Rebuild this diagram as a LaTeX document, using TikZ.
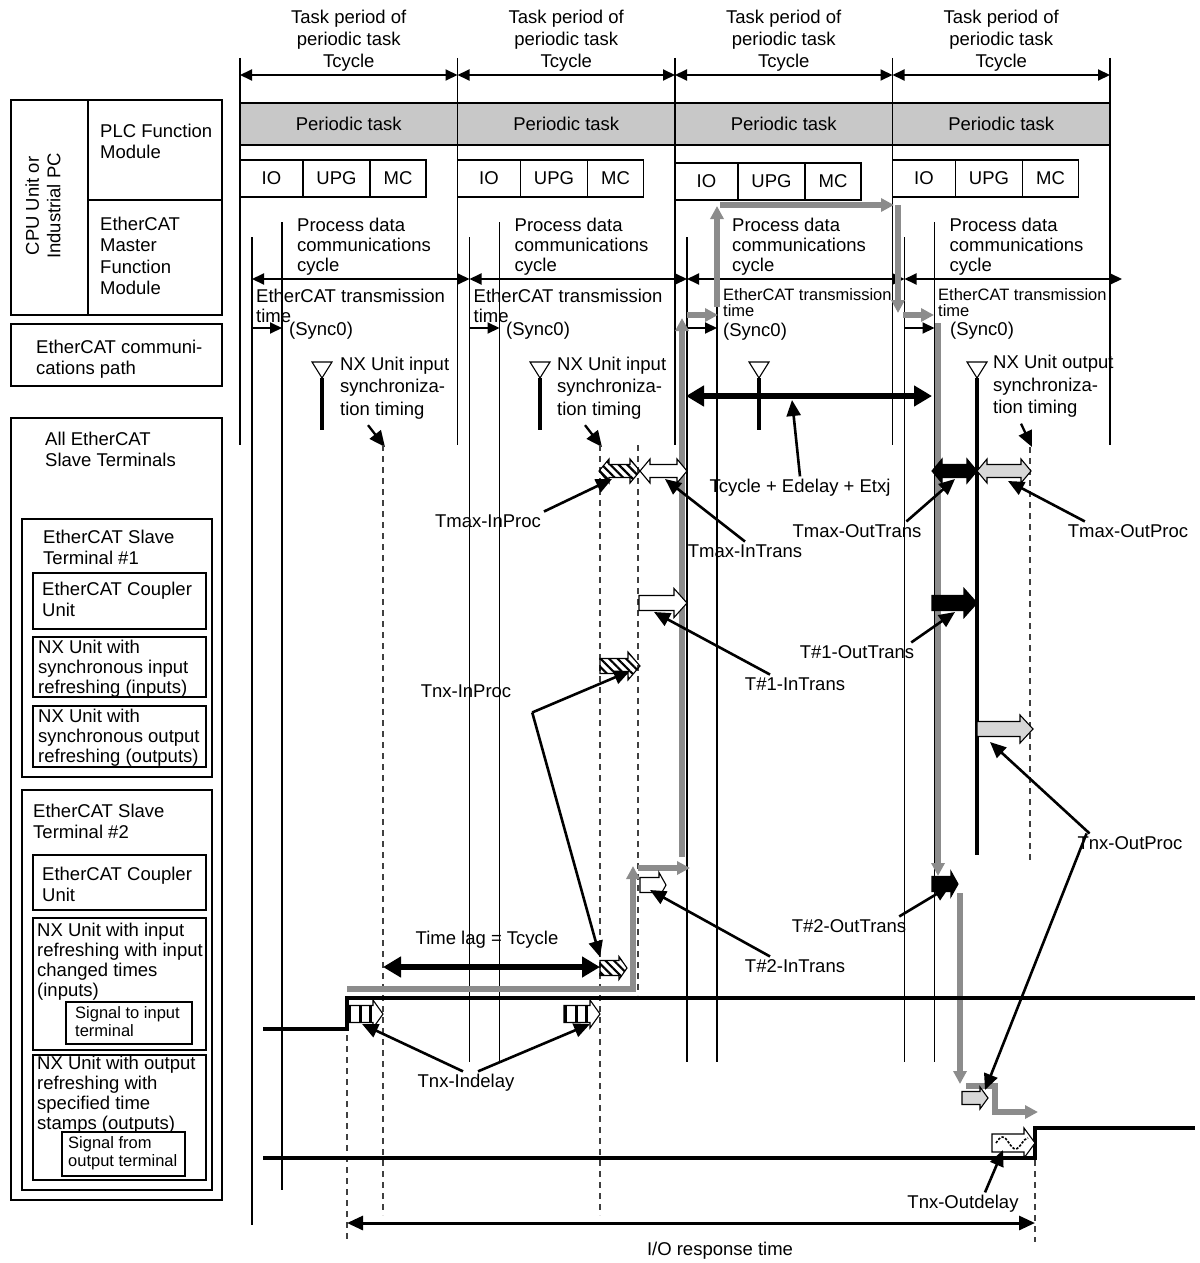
\documentclass[tikz,border=0pt]{standalone}
\usepackage{fontspec}
\setmainfont{Liberation Sans}
\usetikzlibrary{arrows.meta,patterns.meta}

\definecolor{flowgray}{RGB}{140,140,140}
\definecolor{bargray}{RGB}{200,200,200}
\definecolor{blockgray}{RGB}{215,215,215}

% block arrows: style, x1, x2, y, body half height, head half height, head length
\newcommand{\rblock}[7]{%
  \draw[#1] (#2,#4-#5) -- (#3-#7,#4-#5) -- (#3-#7,#4-#6) -- (#3,#4)
    -- (#3-#7,#4+#6) -- (#3-#7,#4+#5) -- (#2,#4+#5) -- cycle;}
\newcommand{\dblock}[7]{%
  \draw[#1] (#2,#4) -- (#2+#7,#4-#6) -- (#2+#7,#4-#5) -- (#3-#7,#4-#5)
    -- (#3-#7,#4-#6) -- (#3,#4) -- (#3-#7,#4+#6) -- (#3-#7,#4+#5)
    -- (#2+#7,#4+#5) -- (#2+#7,#4+#6) -- cycle;}

\tikzset{
  txt/.style={font=\fontsize{18.5}{21.5}\selectfont,inner sep=0pt,align=left},
  tight/.style={font=\fontsize{18.5}{20}\selectfont},
  smalltxt/.style={font=\fontsize{16.5}{18.5}\selectfont},
  box/.style={draw,line width=1.1pt},
  bar/.style={draw,line width=1.1pt,fill=bargray},
  vl/.style={line width=1.1pt},
  stem/.style={line width=3.5pt},
  dl/.style={line width=1.3pt,dash pattern=on 6pt off 5pt,black!75},
  tip/.style={line width=2pt,-{Triangle[length=12pt,width=11pt]}},
  span/.style={line width=2pt,{Triangle[length=12pt,width=11pt]}-{Triangle[length=12pt,width=11pt]}},
  bigspan/.style={line width=6.5pt,{Triangle[length=18pt,width=20pt]}-{Triangle[length=18pt,width=20pt]}},
  ptr/.style={line width=2.6pt,-{Triangle[length=16pt,width=14pt]}},
  flow/.style={draw=flowgray,line width=5.5pt,-{Triangle[length=13pt,width=13pt]}},
  sig/.style={line width=4pt},
  bwhite/.style={draw,line width=1.1pt,fill=white},
  bblack/.style={draw,line width=1.1pt,fill=black},
  bgray/.style={draw,line width=1.1pt,fill=blockgray},
  bhatch/.style={draw,line width=1.1pt,pattern={Lines[angle=-45,distance=6pt,line width=2.2pt]}},
  lbl/.style={txt,outer sep=3pt},
}

\begin{document}
\begin{tikzpicture}[x=1pt,y=-1pt,line join=miter]
  \path[use as bounding box] (0,0) rectangle (1199,1263);

  % left legend
  \draw[box] (11,100) rectangle (222,315);
  \draw[box] (88,100) -- (88,315);
  \draw[box] (88,200) -- (222,200);
  \node[txt,rotate=90,align=center] (cpu) at (43,206) {CPU Unit or\\Industrial PC};
  \node[txt,anchor=north west] (plc) at (100,123.5) {PLC Function\\Module};
  \node[txt,anchor=north west] (ecmaster) at (100,216.5) {EtherCAT\\Master\\Function\\Module};
  \draw[box] (11,324) rectangle (222,386);
  \node[txt,anchor=north west] (commpath) at (36,339.5) {EtherCAT communi-\\cations path};
  \draw[box] (11,418) rectangle (222,1200);
  \node[txt,anchor=north west] (allst) at (45,431.5) {All EtherCAT\\Slave Terminals};
  \draw[box] (22,519) rectangle (212,777);
  \node[txt,anchor=north west] (st1) at (43,529.5) {EtherCAT Slave\\Terminal \#1};
  \draw[box] (33,573) rectangle (206,629);
  \node[txt,anchor=north west] (cu1) at (42,581.5) {EtherCAT Coupler\\Unit};
  \draw[box] (33,637) rectangle (206,697);
  \node[txt,tight,anchor=north west] (nxin1) at (38,639.5) {NX Unit with\\synchronous input\\refreshing (inputs)};
  \draw[box] (33,706) rectangle (206,767);
  \node[txt,tight,anchor=north west] (nxout1) at (38,708.5) {NX Unit with\\synchronous output\\refreshing (outputs)};
  \draw[box] (22,790) rectangle (212,1190);
  \node[txt,anchor=north west] (st2) at (33,803.5) {EtherCAT Slave\\Terminal \#2};
  \draw[box] (33,855) rectangle (206,910);
  \node[txt,anchor=north west] (cu2) at (42,866.5) {EtherCAT Coupler\\Unit};
  \draw[box] (33,918) rectangle (206,1050);
  \node[txt,tight,anchor=north west] (nxin2) at (37,922.5) {NX Unit with input\\refreshing with input\\changed times\\(inputs)};
  \draw[box] (66,1002) rectangle (192,1044);
  \node[txt,smalltxt,anchor=north west] (sigin) at (75,1006) {Signal to input\\terminal};
  \draw[box] (33,1055) rectangle (206,1180);
  \node[txt,tight,anchor=north west] (nxout2) at (37,1055.5) {NX Unit with output\\refreshing with\\specified time\\stamps (outputs)};
  \draw[box] (62,1132) rectangle (185,1176);
  \node[txt,smalltxt,anchor=north west] (sigout) at (68,1136) {Signal from\\output terminal};

  % task period boundaries
  \foreach \x in {240,457.5,675,892.5,1110}
    \draw[vl] (\x,58) -- (\x,445);

  % one column per task period
  \foreach \k/\tri in {0/322,1/540,2/759,3/977}{
    \pgfmathsetmacro{\P}{240+217.5*\k}
    \pgfmathsetmacro{\Q}{\P+217.5}
    \pgfmathsetmacro{\M}{\P+108.75}
    \pgfmathsetmacro{\A}{\P+12}
    \pgfmathsetmacro{\B}{\P+42}
    \pgfmathsetmacro{\yb}{\k==2 ? 163 : 160}
    \pgfmathsetmacro{\Abot}{\k==0 ? 1225 : 1062}
    \pgfmathsetmacro{\Bbot}{\k==0 ? 1190 : 1062}
    \pgfmathsetmacro{\sbot}{\k==3 ? 855 : 430}
    \node[txt,align=center,anchor=north,font=\fontsize{18.5}{22}\selectfont] (hdr\k) at (\M,9.5) {Task period of\\periodic task\\Tcycle};
    \draw[span] (\P,75) -- (\Q,75);
    \draw[bar] (\P,103) rectangle (\Q,145);
    \node[txt] (task\k) at (\M,124) {Periodic task};
    \draw[box] (\P,\yb) rectangle ++(63,37);
    \draw[box] (\P+63,\yb) rectangle ++(67,37);
    \draw[box] (\P+130,\yb) rectangle ++(56,37);
    \node[txt] (io\k) at (\P+31.5,\yb+18.5) {IO};
    \node[txt] (upg\k) at (\P+96.5,\yb+18.5) {UPG};
    \node[txt] (mc\k) at (\P+158,\yb+18.5) {MC};
    \draw[vl] (\A,237) -- (\A,\Abot);
    \draw[vl] (\B,222) -- (\B,\Bbot);
    \draw[span] (\A,279) -- (\A+217.5,279);
    \node[txt,tight,anchor=north west] (pdc\k) at (\P+57,217.5) {Process data\\communications\\cycle};
    \draw[tip] (\A,328) -- (\B,328);
    \draw[line width=1.1pt,fill=white] (\tri-10,362) -- (\tri+10,362) -- (\tri,378) -- cycle;
    \draw[stem] (\tri,378) -- (\tri,\sbot);
  }

  % transmission time texts
  \node[txt,tight,anchor=north west] (ett0) at (256,288.5) {EtherCAT transmission\\time};
  \node[txt,anchor=north west] (sync0) at (289,321.5) {(Sync0)};
  \node[txt,tight,anchor=north west] (ett1) at (473.5,288.5) {EtherCAT transmission\\time};
  \node[txt,anchor=north west] (sync1) at (506,321.5) {(Sync0)};
  \node[txt,smalltxt,anchor=north west,font=\fontsize{16.5}{16}\selectfont] (ett2) at (723,288) {EtherCAT transmission\\time};
  \node[txt,anchor=north west] (sync2) at (723,323) {(Sync0)};
  \node[txt,smalltxt,anchor=north west,font=\fontsize{16.5}{16}\selectfont] (ett3) at (938,288) {EtherCAT transmission\\time};
  \node[txt,anchor=north west] (sync3) at (950,321.5) {(Sync0)};

  % synchronization timing texts
  \node[txt,anchor=north west,font=\fontsize{18.5}{22.5}\selectfont] (nxsync0) at (340,356.5) {NX Unit input\\synchroniza-\\tion timing};
  \node[txt,anchor=north west,font=\fontsize{18.5}{22.5}\selectfont] (nxsync1) at (557,356.5) {NX Unit input\\synchroniza-\\tion timing};
  \node[txt,anchor=north west,font=\fontsize{18.5}{22.5}\selectfont] (nxsync3) at (993,355) {NX Unit output\\synchroniza-\\tion timing};
  \draw[ptr,line width=2.3pt] ([shift={(28,6)}]nxsync0.south west) -- (385,447);
  \draw[ptr,line width=2.3pt] ([shift={(28,6)}]nxsync1.south west) -- (602,447);
  \draw[ptr,line width=2.3pt] ([shift={(28,6)}]nxsync3.south west) -- (1032,447);

  % dashed timing lines
  \draw[dl] (383,445) -- (383,1215);
  \draw[dl] (600,445) -- (600,1215);
  \draw[dl] (638,445) -- (638,995);
  \draw[dl] (1030,447) -- (1030,860);
  \draw[dl] (347,1002) -- (347,1242);
  \draw[dl] (1035,1160) -- (1035,1242);

  % gray data flow
  \draw[flow] (347,989) -- (633,989) -- (633,866);
  \draw[flow] (638,868) -- (690,868);
  \draw[flow] (682,857) -- (682,318);
  \draw[flow] (687,315) -- (718,315);
  \draw[flow] (717,307) -- (717,206);
  \draw[flow] (720,205) -- (894,205);
  \draw[flow] (898,205) -- (898,313);
  \draw[flow] (903,315) -- (934,315);
  \draw[flow] (938,323) -- (938,876);
  \draw[flow] (960,893) -- (960,1084);
  \draw[flow] (966,1086) -- (995,1086) -- (995,1112) -- (1038,1112);

  % signals
  \draw[sig] (263,1029) -- (347,1029) -- (347,998) -- (1195,998);
  \draw[sig] (263,1158) -- (1035,1158) -- (1035,1128) -- (1195,1128);

  % block arrows
  \dblock{bhatch}{599}{640}{471}{6.5}{12}{10}
  \dblock{bwhite}{640}{687}{471}{6.5}{12}{10}
  \dblock{bblack}{932}{977}{471}{6.5}{12}{10}
  \dblock{bgray}{977}{1031}{471}{6.5}{12}{10}
  \rblock{bwhite}{639}{687}{603}{7.5}{14.5}{13}
  \rblock{bblack}{932}{977}{603}{7.5}{14.5}{13}
  \rblock{bhatch}{600}{640}{666}{7.5}{14}{12}
  \rblock{bgray}{977}{1033}{729}{7.5}{14}{13}
  \rblock{bwhite}{640}{666}{885}{7.5}{12.5}{7}
  \rblock{bblack}{932}{958}{884}{7.5}{12.5}{7}
  \rblock{bhatch}{600}{627}{968}{7.5}{11.5}{8}
  \rblock{bwhite}{348}{383}{1014}{8.5}{14}{10}
  \rblock{bwhite}{564}{600}{1014}{8.5}{14}{10}
  \foreach \s in {1.5,12,22}{
    \draw[line width=3pt] (348+\s,1006) -- (348+\s,1022);
    \draw[line width=3pt] (564+\s,1006) -- (564+\s,1022);
  }
  \rblock{bgray}{962}{988}{1098}{6.5}{11}{8}
  \rblock{bwhite}{992}{1035}{1143}{9}{15}{11}
  \draw[line width=1.6pt,dash pattern=on 2.5pt off 1.5pt] (996,1143) sin (1002.5,1137) cos (1009,1143) sin (1015.5,1149) cos (1022,1143) sin (1028,1138);

  % thick spans
  \draw[bigspan] (686,396) -- (932,396);
  \draw[bigspan] (383,967) -- (600,967);
  \draw[line width=3pt,{Triangle[length=16pt,width=14pt]}-{Triangle[length=16pt,width=14pt]}] (347,1223) -- (1035,1223);

  % labels
  \node[lbl] (tmaxinproc) at (488,521) {Tmax-InProc};
  \node[lbl] (tmaxintrans) at (745,551) {Tmax-InTrans};
  \node[lbl] (tcyc) at (800,488) {Tcycle + Edelay + Etxj};
  \node[lbl] (tmaxouttrans) at (857,531) {Tmax-OutTrans};
  \node[lbl] (tmaxoutproc) at (1128,531) {Tmax-OutProc};
  \node[lbl] (t1intrans) at (795,684) {T\#1-InTrans};
  \node[lbl] (t1outtrans) at (857,652) {T\#1-OutTrans};
  \node[lbl] (tnxinproc) at (466,691) {Tnx-InProc};
  \node[lbl] (t2intrans) at (795,966) {T\#2-InTrans};
  \node[lbl] (t2outtrans) at (849,926) {T\#2-OutTrans};
  \node[lbl] (tnxoutproc) at (1130,843) {Tnx-OutProc};
  \node[lbl] (tnxindelay) at (466,1083) {Tnx-Indelay};
  \node[lbl] (tnxoutdelay) at (963,1204) {Tnx-Outdelay};
  \node[lbl] (timelag) at (487,940) {Time lag = Tcycle};
  \node[lbl] (iorsp) at (720,1251) {I/O response time};

  % pointers
  \draw[ptr] (tmaxinproc.north east) -- (612,479);
  \draw[ptr] (tmaxintrans.north) -- (665,479);
  \draw[ptr] (tcyc.north) -- (792,400);
  \draw[ptr] ([xshift=-18pt]tmaxouttrans.north east) -- (955,479);
  \draw[ptr] ([xshift=20pt]tmaxoutproc.north west) -- (1008,481);
  \draw[ptr] ([xshift=-25pt]t1intrans.north) -- (654,612);
  \draw[ptr] ([xshift=-6pt]t1outtrans.north east) -- (955,612);
  \draw[ptr] ([shift={(18,12)}]tnxinproc.south east) -- (630,671);
  \draw[ptr] ([shift={(18,12)}]tnxinproc.south east) -- (600,957);
  \draw[ptr] ([xshift=-25pt]t2intrans.north) -- (650,890);
  \draw[ptr] ([xshift=-10pt]t2outtrans.north east) -- (950,886);
  \draw[ptr] ([xshift=15pt]tnxoutproc.north west) -- (990,742);
  \draw[ptr] ([xshift=12pt]tnxoutproc.north west) -- (985,1090);
  \draw[ptr] ([xshift=-3pt]tnxindelay.north) -- (362,1024);
  \draw[ptr] ([xshift=12pt]tnxindelay.north) -- (590,1024);
  \draw[ptr] ([xshift=22pt]tnxoutdelay.north) -- (1003,1150);
\end{tikzpicture}
\end{document}
